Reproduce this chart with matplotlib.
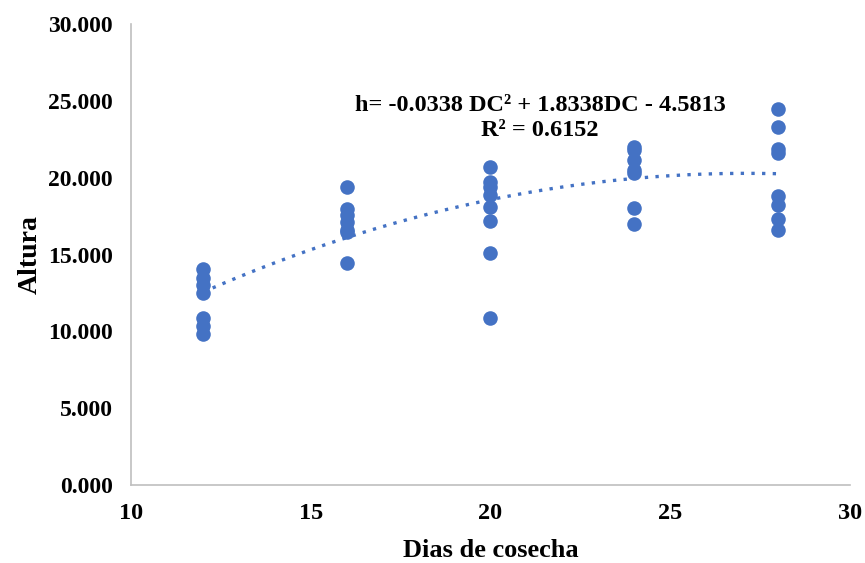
import numpy as np
import matplotlib
matplotlib.use("Agg")
import matplotlib.pyplot as plt

plt.rcParams['font.family'] = ['Liberation Serif', 'DejaVu Serif']
plt.rcParams['font.weight'] = 'bold'

# datos
dias = [12]*7 + [16]*7 + [20]*8 + [24]*7 + [28]*8
altura = [14.05, 13.5, 13.0, 12.5, 10.9, 10.35, 9.8,
          19.4, 17.95, 17.6, 17.1, 16.6, 16.45, 14.45,
          20.7, 19.75, 19.4, 18.9, 18.1, 17.2, 15.1, 10.85,
          22.0, 21.8, 21.15, 20.5, 20.3, 18.05, 17.0,
          24.45, 23.3, 21.9, 21.6, 18.8, 18.2, 17.35, 16.6]
coef = [-0.0338, 1.8338, -4.5813]
yticks = [0, 5, 10, 15, 20, 25, 30]
xticks = [10, 15, 20, 25, 30]

fig = plt.figure(figsize=(8.65, 5.63), dpi=100)
ax = fig.add_axes([0.1514, 0.1385, 0.8313, 0.8185])

ax.scatter(dias, altura, s=110, color='#4472C4', zorder=3, linewidths=0)

xs = np.linspace(min(dias), max(dias), 200)
ax.plot(xs, np.polyval(coef, xs), linestyle=(0, (1, 2.2)), color='#4472C4',
        linewidth=2.4, zorder=2)

ax.text(0.569, 0.796, 'h= -0.0338 DC² + 1.8338DC - 4.5813\nR² = 0.6152',
        transform=ax.transAxes, ha='center', va='center', fontsize=17.5,
        fontweight='bold', linespacing=1.25)

ax.set_xlim(10, 30)
ax.set_ylim(0, 30)
ax.set_xticks(xticks)
ax.set_yticks(yticks)
ax.set_yticklabels(['%.3f' % v for v in yticks])
ax.tick_params(length=0, labelsize=17, pad=13)
ax.tick_params(axis='x', labelsize=17.5)
for lab in ax.get_xticklabels() + ax.get_yticklabels():
    lab.set_fontweight('bold')

for s in ['top', 'right']:
    ax.spines[s].set_visible(False)
for s in ['left', 'bottom']:
    ax.spines[s].set_color('#BFBFBF')
    ax.spines[s].set_linewidth(1.2)

ax.set_xlabel('Dias de cosecha', fontsize=19, fontweight='bold', labelpad=11)
ax.set_ylabel('Altura', fontsize=20, fontweight='bold', labelpad=4)

fig.savefig('out.png', dpi=100)
